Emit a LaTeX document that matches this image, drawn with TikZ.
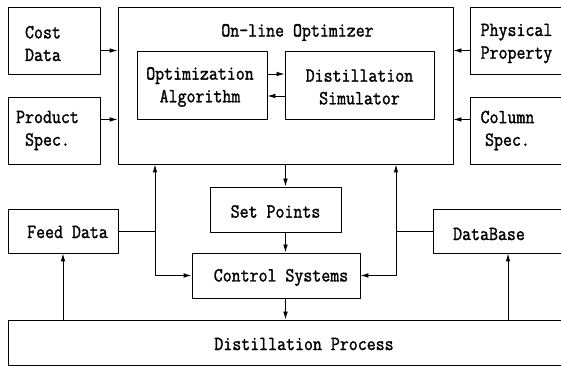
\documentclass[tikz,border=0pt]{standalone}
\usepackage{fontspec}
\setmonofont{Latin Modern Mono}[FakeStretch=0.87, FakeBold=1.5]
\usetikzlibrary{arrows.meta}
\newlength\unitpx
\setlength\unitpx{0.75pt}

\begin{document}
\begin{tikzpicture}[
    x = 0.75pt, y = -0.75pt,
    line join=round,
    box/.style = {draw, line width=0.7pt, inner sep=0pt},
    txt/.style = {font=\ttfamily\fontsize{15}{17}\selectfont, align=center},
    wire/.style = {line width=0.7pt},
    arr/.style = {wire, -{Latex[length=6pt, width=3.5pt]}}
]
\useasboundingbox (0,0) rectangle (561,366);

% optimizer block
\node[box, minimum width=335\unitpx, minimum height=157\unitpx,
    label={[txt, xshift=12\unitpx, yshift=53\unitpx]center:On-line Optimizer}] (opt) at (285.5,85.5) {};
\node[box, minimum width=130\unitpx, minimum height=68\unitpx,
    label={[txt, xshift=-2\unitpx, yshift=-2\unitpx]center:{Optimization\\Algorithm}}] (alg) at (202,85) {};
\node[box, minimum width=149\unitpx, minimum height=68\unitpx,
    label={[txt, yshift=-2\unitpx]center:{Distillation\\Simulator}}] (sim) at (359.5,85) {};

% inputs of the optimizer
\node[box, minimum width=92\unitpx, minimum height=67\unitpx,
    label={[txt, xshift=-11\unitpx, yshift=-3\unitpx]center:{Cost\\Data}}] (cost) at (54,40.5) {};
\node[box, minimum width=92\unitpx, minimum height=67\unitpx,
    label={[txt, xshift=-6.5\unitpx]center:{Product\\Spec.}}] (prod) at (54,130.5) {};
\node[box, minimum width=93\unitpx, minimum height=67\unitpx,
    label={[txt, yshift=-3\unitpx]center:{Physical\\Property}}] (phys) at (516.5,40.5) {};
\node[box, minimum width=93\unitpx, minimum height=67\unitpx,
    label={[txt, xshift=-9\unitpx]center:{Column\\Spec.}}] (col) at (516.5,130.5) {};

% lower blocks
\node[box, minimum width=131\unitpx, minimum height=45\unitpx,
    label={[txt, yshift=-2\unitpx]center:Set Points}] (sp) at (275.5,209.5) {};
\node[box, minimum width=168\unitpx, minimum height=45\unitpx,
    label={[txt, xshift=5\unitpx, yshift=-2\unitpx]center:Control Systems}] (ctrl) at (276,275.5) {};
\node[box, minimum width=110\unitpx, minimum height=44\unitpx,
    label={[txt, xshift=4.5\unitpx, yshift=-1\unitpx]center:Feed Data}] (feed) at (63,231) {};
\node[box, minimum width=130\unitpx, minimum height=44\unitpx,
    label={[txt, xshift=-9\unitpx, yshift=-3\unitpx]center:DataBase}] (db) at (498,231) {};
\node[box, minimum width=592\unitpx, minimum height=45\unitpx,
    label={[txt, yshift=-1.5\unitpx]center:Distillation Process}] (proc) at (304,342.5) {};

% junctions
\coordinate (fl) at (155,231);
\coordinate (dl) at (396,231);

% arrows into the optimizer
\draw[arr] (cost.east |- alg.north) -- (opt.west |- alg.north);
\draw[arr] (prod.east |- alg.south) -- (opt.west |- alg.south);
\draw[arr] (phys.west |- alg.north) -- (opt.east |- alg.north);
\draw[arr] (col.west |- alg.south) -- (opt.east |- alg.south);
\draw[arr] ([yshift=11\unitpx]alg.east) -- ([yshift=11\unitpx]sim.west);
\draw[arr] ([yshift=-11\unitpx]sim.west) -- ([yshift=-11\unitpx]alg.east);

% down the middle
\draw[arr] (opt.south) -- (opt.south |- sp.north);
\draw[arr] (opt.south |- sp.south) -- (opt.south |- ctrl.north);
\draw[arr] (opt.south |- ctrl.south) -- (opt.south |- proc.north);

% feed data and database
\draw[wire] (feed.east) -- (fl);
\draw[arr] (fl) -- (fl |- opt.south);
\draw[arr] (fl) |- (ctrl.west);
\draw[wire] (db.west) -- (dl);
\draw[arr] (dl) -- (dl |- opt.south);
\draw[arr] (dl) |- (ctrl.east);
\draw[arr] (feed.south |- proc.north) -- (feed.south);
\draw[arr] ([xshift=10\unitpx]db.south |- proc.north) -- ([xshift=10\unitpx]db.south);

\end{tikzpicture}
\end{document}
